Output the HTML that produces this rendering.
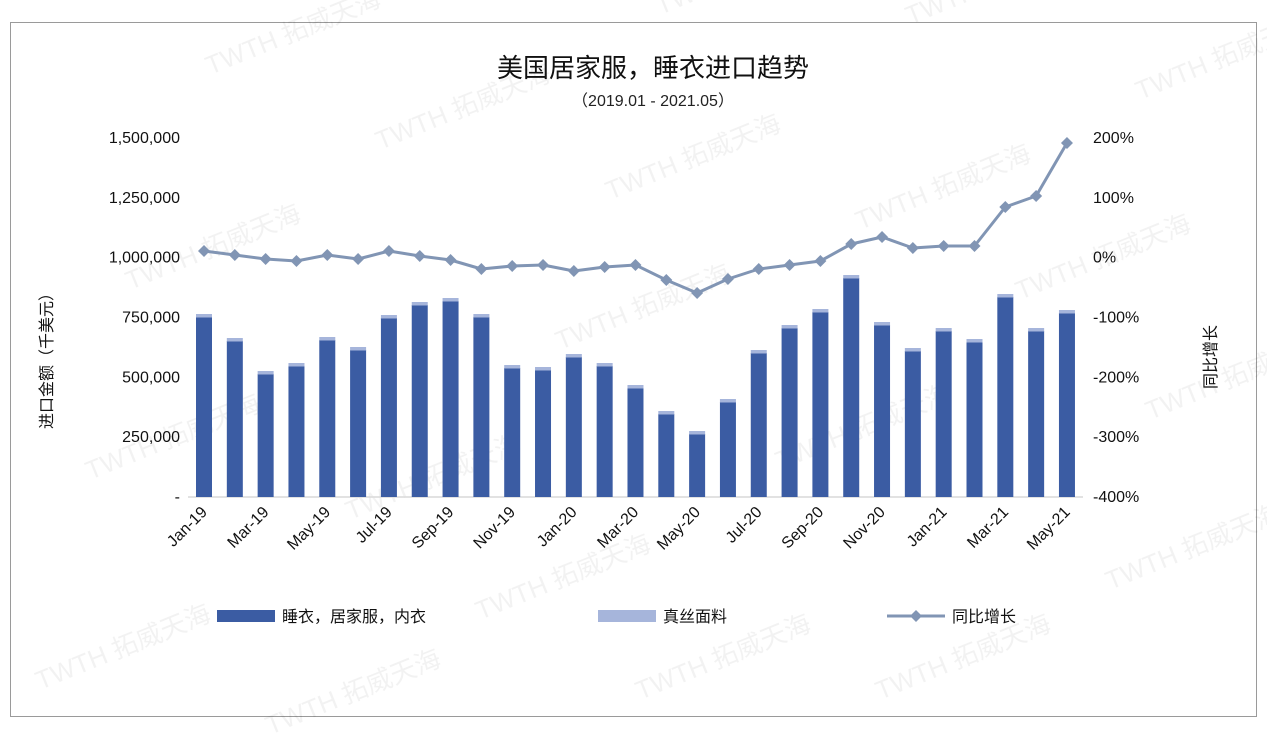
<!DOCTYPE html>
<html><head><meta charset="utf-8"><style>
html,body{margin:0;padding:0;background:#fff;}
svg{display:block;font-family:"Liberation Sans","Noto Sans CJK SC",sans-serif;}
</style></head><body>
<svg id="c" width="1267" height="739" xmlns="http://www.w3.org/2000/svg">
<rect x="0" y="0" width="1267" height="739" fill="#fff"/>
<rect x="10.5" y="22.5" width="1246" height="694" fill="none" stroke="#9a9a9a" stroke-width="1"/>
<text x="653" y="77" text-anchor="middle" font-size="26" fill="#111">美国居家服，睡衣进口趋势</text>
<text x="653" y="106" text-anchor="middle" font-size="16" fill="#222">（2019.01 - 2021.05）</text>
<g id="wm" fill="#000" fill-opacity="0.05" font-size="26"></g>
<g id="grid"></g>
<g id="bars"></g>
<g id="line"></g>
<g id="lab" font-size="16" fill="#111"></g>
<text transform="translate(52,357) rotate(-90)" text-anchor="middle" font-size="16" fill="#111">进口金额（千美元）</text>
<text transform="translate(1216,357) rotate(-90)" text-anchor="middle" font-size="16" fill="#111">同比增长</text>
<rect x="217" y="610" width="58" height="12" fill="#3b5ca3"/>
<text x="282" y="622" font-size="16" fill="#111">睡衣，居家服，内衣</text>
<rect x="598" y="610" width="58" height="12" fill="#a6b5db"/>
<text x="663" y="622" font-size="16" fill="#111">真丝面料</text>
<line x1="887" y1="616" x2="945" y2="616" stroke="#8195b4" stroke-width="3"/>
<path d="M916 610 L922 616 L916 622 L910 616Z" fill="#8195b4"/>
<text x="952" y="622" font-size="16" fill="#111">同比增长</text>
</svg>
<script>
var NS="http://www.w3.org/2000/svg";
function el(p,t,a,txt){var e=document.createElementNS(NS,t);for(var k in a)e.setAttribute(k,a[k]);if(txt!=null)e.textContent=txt;document.getElementById(p).appendChild(e);return e;}
var wm=[[210,75],[380,150],[610,200],[860,230],[130,290],[560,350],[1020,300],[90,480],[350,520],[780,470],[1150,420],[480,620],[1110,590],[40,690],[640,700],[880,700],[270,735],[660,15],[910,25],[1140,100]];
wm.forEach(function(p){el("wm","text",{x:p[0],y:p[1],transform:"rotate(-22 "+p[0]+" "+p[1]+")"},"TWTH 拓威天海");});
var L=["-","250,000","500,000","750,000","1,000,000","1,250,000","1,500,000"];
var R=["-400%","-300%","-200%","-100%","0%","100%","200%"];
for(var i=0;i<7;i++){var y=497-i*59.83;
 if(i==0) el("grid","line",{x1:188,y1:y,x2:1083,y2:y,stroke:"#d9d9d9","stroke-width":1.5});
 el("lab","text",{x:180,y:y+5,"text-anchor":"end"},L[i]);
 el("lab","text",{x:1093,y:y+5},R[i]);}
var tops=[314,338,371,363,337,347,315,302,298,314,365,367,354,363,385,411,431,399,350,325,309,275,322,348,328,339,294,328,310];
var ly=[251,255,259,261,255,259,251,256,260,269,266,265,271,267,265,280,293,279,269,265,261,244,237,248,246,246,207,196,143];
var mon=["Jan","Mar","May","Jul","Sep","Nov"];
var pts=[];
for(var i=0;i<29;i++){var cx=204+i*30.82;
 el("bars","rect",{x:cx-8,y:tops[i]+3,width:16,height:497-tops[i]-3,fill:"#3b5ca3"});
 el("bars","rect",{x:cx-8,y:tops[i],width:16,height:3.5,fill:"#a6b5db"});
 pts.push(cx+","+ly[i]);
 if(i%2==0){var yr=19+Math.floor(i/12);var m=mon[(i%12)/2];
  el("lab","text",{x:cx+4,y:513,"text-anchor":"end",transform:"rotate(-45 "+(cx+4)+" 513)"},m+"-"+yr);}
}
el("line","polyline",{points:pts.join(" "),fill:"none",stroke:"#8195b4","stroke-width":3,"stroke-linejoin":"round"});
for(var i=0;i<29;i++){var cx=204+i*30.82,y=ly[i];
 el("line","path",{d:"M"+cx+" "+(y-6)+" L"+(cx+6)+" "+y+" L"+cx+" "+(y+6)+" L"+(cx-6)+" "+y+"Z",fill:"#8195b4"});}
</script>
</body></html>
